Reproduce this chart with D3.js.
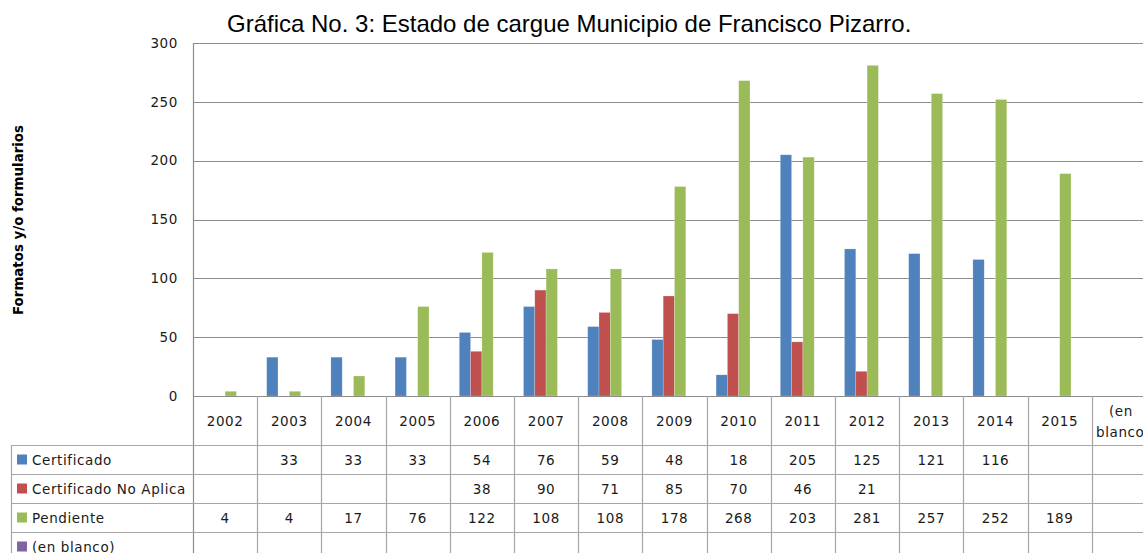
<!DOCTYPE html>
<html>
<head>
<meta charset="utf-8">
<script src="https://cdn.jsdelivr.net/npm/d3@7"></script>
<style>
  html, body { margin: 0; padding: 0; background: #fff; }
  svg { display: block; }
</style>
</head>
<body>
<svg id="chart" width="1143" height="553"></svg>
<script>
const title = "Gráfica No. 3: Estado de cargue Municipio de Francisco Pizarro.";
const yLabel = "Formatos y/o formularios";
const categories = ["2002","2003","2004","2005","2006","2007","2008","2009","2010","2011","2012","2013","2014","2015","(en blanco)"];
const seriesNames = ["Certificado","Certificado No Aplica","Pendiente","(en blanco)"];
const seriesColors = ["#4F81BD","#C0504D","#9BBB59","#8064A2"];
const certificado =  [null,33,33,33,54,76,59,48,18,205,125,121,116,null,null];
const noAplica =     [null,null,null,null,38,90,71,85,70,46,21,null,null,null,null];
const pendiente =    [4,4,17,76,122,108,108,178,268,203,281,257,252,189,null];
const enBlanco =     [null,null,null,null,null,null,null,null,null,null,null,null,null,null,null];
const yTicks = [0,50,100,150,200,250,300];

const seriesValues = [certificado, noAplica, pendiente, enBlanco];

const svg = d3.select("#chart");
const plotLeft = 193, plotTop = 43, plotBottom = 396;
const colW = 64.2;
const tableLeft = 11;
const rowTop = 445;
const tblFont = "DejaVu Sans, sans-serif";

const x0 = d3.scaleBand().domain(categories)
  .range([plotLeft, plotLeft + colW * categories.length]).paddingInner(0).paddingOuter(0);
const x1 = d3.scaleBand().domain(seriesNames)
  .range([0, x0.bandwidth()]).paddingInner(0).paddingOuter(0.84);
const y = d3.scaleLinear().domain([0, 300]).range([plotBottom, plotTop]);
const rowY = d3.scaleBand().domain(seriesNames).range([rowTop, rowTop + 29 * 4]);
const color = d3.scaleOrdinal().domain(seriesNames).range(seriesColors);

// Title
svg.append("text")
  .attr("x", 227).attr("y", 31.5)
  .attr("font-family", "Liberation Sans, Arial, sans-serif")
  .attr("font-size", 24).attr("fill", "#000")
  .text(title);

// Gridlines
svg.append("g").selectAll("line").data(yTicks.filter(d => d > 0)).join("line")
  .attr("x1", plotLeft).attr("x2", 1143)
  .attr("y1", d => Math.round(y(d)) + 0.5).attr("y2", d => Math.round(y(d)) + 0.5)
  .attr("stroke", "#8c8c8c").attr("stroke-width", 1.2);

// Y axis via d3.axisLeft
const yAxis = svg.append("g").attr("transform", `translate(${plotLeft},0)`)
  .call(d3.axisLeft(y).tickValues(yTicks).tickSize(0).tickPadding(15));
yAxis.select(".domain").remove();
yAxis.selectAll("text")
  .attr("font-family", tblFont).attr("font-size", 13.5)
  .attr("letter-spacing", 0.6)
  .attr("fill", "#1a1a1a");

// Y label
svg.append("text")
  .attr("transform", "translate(23,220) rotate(-90)")
  .attr("text-anchor", "middle")
  .attr("font-family", "DejaVu Sans, sans-serif").attr("font-weight", "bold")
  .attr("font-size", 14).attr("fill", "#000")
  .attr("textLength", 190).attr("lengthAdjust", "spacingAndGlyphs")
  .text(yLabel);

// Bars
const barData = [];
seriesNames.forEach((s, si) => {
  categories.forEach((c, ci) => {
    const v = seriesValues[si][ci];
    if (v != null) barData.push({ s, c, v });
  });
});
svg.append("g").selectAll("rect").data(barData).join("rect")
  .attr("x", d => x0(d.c) + x1(d.s))
  .attr("width", x1.bandwidth())
  .attr("y", d => y(d.v))
  .attr("height", d => y(0) - y(d.v))
  .attr("fill", d => color(d.s))
  .attr("stroke", "#ffffff").attr("stroke-opacity", 0.35).attr("stroke-width", 0.6);

// Table lines
const lineColor = "#a6a6a6";
const tbl = svg.append("g");
tbl.append("line").attr("x1", plotLeft).attr("x2", 1143)
  .attr("y1", plotBottom + 0.5).attr("y2", plotBottom + 0.5)
  .attr("stroke", "#8c8c8c").attr("stroke-width", 1.2);
tbl.append("line").attr("x1", plotLeft + 0.5).attr("x2", plotLeft + 0.5)
  .attr("y1", plotTop).attr("y2", 553)
  .attr("stroke", "#8c8c8c").attr("stroke-width", 1.2);
tbl.selectAll("line.col").data(categories.slice(1)).join("line").attr("class", "col")
  .attr("x1", d => Math.round(x0(d)) + 0.5).attr("x2", d => Math.round(x0(d)) + 0.5)
  .attr("y1", plotBottom).attr("y2", 553)
  .attr("stroke", lineColor).attr("stroke-width", 1.2);
tbl.append("line").attr("x1", tableLeft + 0.5).attr("x2", tableLeft + 0.5)
  .attr("y1", rowTop).attr("y2", 553)
  .attr("stroke", lineColor).attr("stroke-width", 1.2);
tbl.selectAll("line.row").data(seriesNames).join("line").attr("class", "row")
  .attr("x1", tableLeft).attr("x2", 1143)
  .attr("y1", d => Math.round(rowY(d)) + 0.5).attr("y2", d => Math.round(rowY(d)) + 0.5)
  .attr("stroke", lineColor).attr("stroke-width", 1.2);

// Header labels
const hdr = svg.append("g")
  .attr("font-family", tblFont).attr("font-size", 13.5).attr("letter-spacing", 0.6)
  .attr("fill", "#1a1a1a").attr("text-anchor", "middle");
categories.forEach(c => {
  const cx = x0(c) + x0.bandwidth() / 2;
  if (c === "(en blanco)") {
    hdr.append("text").attr("x", cx - 3).attr("y", 416).text("(en");
    hdr.append("text").attr("x", 1096).attr("y", 437).attr("text-anchor", "start").text("blanco)");
  } else {
    hdr.append("text").attr("x", cx).attr("y", 426).text(c);
  }
});

// Row legend keys and values
const rows = svg.append("g")
  .attr("font-family", tblFont).attr("font-size", 13.5).attr("letter-spacing", 0.6)
  .attr("fill", "#1a1a1a");
seriesNames.forEach((s, si) => {
  const cy = rowY(s) + rowY.bandwidth() / 2;
  rows.append("rect").attr("x", 17).attr("y", cy - 5).attr("width", 10).attr("height", 10)
    .attr("fill", color(s));
  rows.append("text").attr("x", 32).attr("y", cy + 5).text(s);
  categories.forEach((c, ci) => {
    const v = seriesValues[si][ci];
    if (v != null) {
      rows.append("text").attr("x", x0(c) + x0.bandwidth() / 2).attr("y", cy + 5)
        .attr("text-anchor", "middle").text(v);
    }
  });
});
</script>
</body>
</html>
